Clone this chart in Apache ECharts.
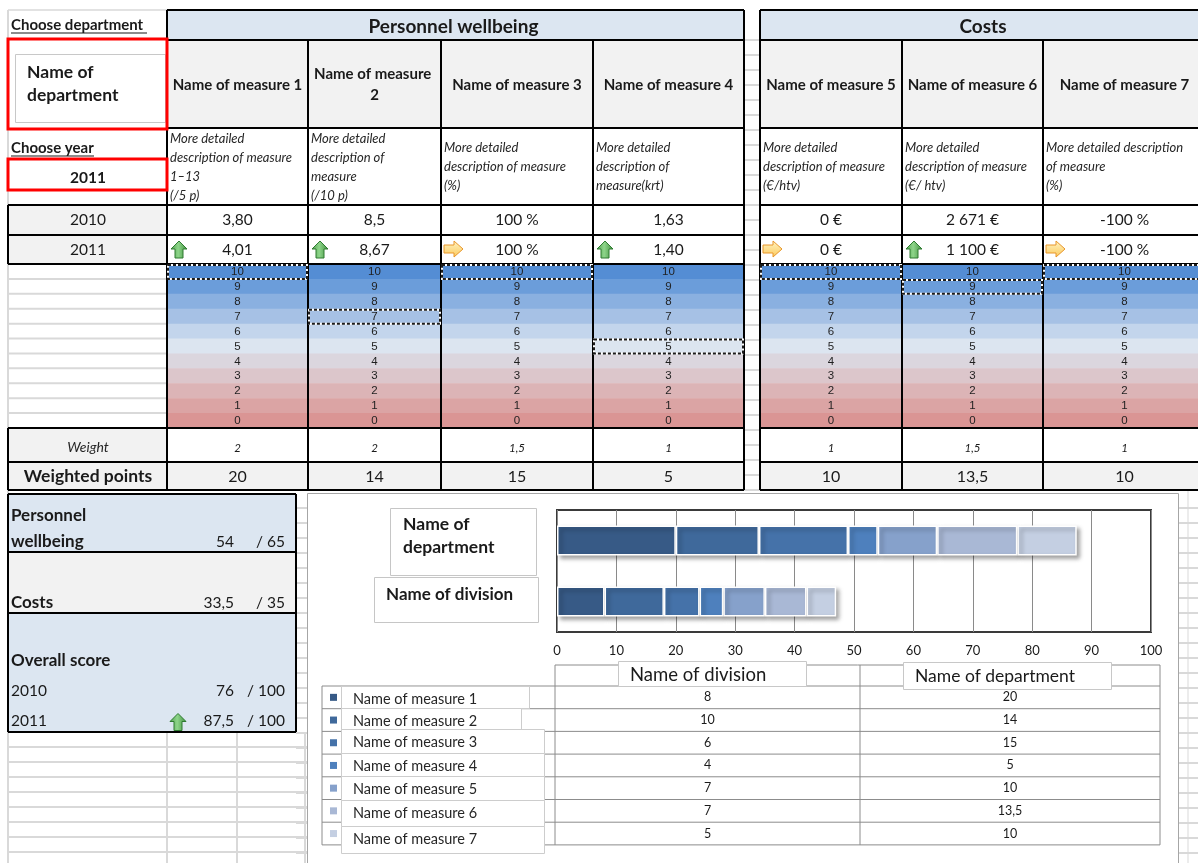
<!DOCTYPE html>
<html>
<head>
<meta charset="utf-8">
<title>Department scorecard</title>
<script src="https://cdn.jsdelivr.net/npm/echarts@6/dist/echarts.min.js"></script>
<style>
  html, body { margin: 0; padding: 0; background: #ffffff; }
  #main { width: 1198px; height: 863px; }
</style>
</head>
<body>
<div id="main"></div>
<script>
// ---------- data ----------
const groupNames = ['Personnel wellbeing', 'Costs'];
const measureNames = ['Name of measure 1', 'Name of measure 2', 'Name of measure 3', 'Name of measure 4',
                      'Name of measure 5', 'Name of measure 6', 'Name of measure 7'];
const measureGroup = [0, 0, 0, 0, 1, 1, 1];
const descriptions = [
  ['More detailed', 'description of measure', '1–13', '(/5 p)'],
  ['More detailed', 'description of', 'measure', '(/10 p)'],
  ['More detailed', 'description of measure', '(%)'],
  ['More detailed', 'description of', 'measure(krt)'],
  ['More detailed', 'description of measure', '(€/htv)'],
  ['More detailed', 'description of measure', '(€/ htv)'],
  ['More detailed description', 'of measure', '(%)']
];
const years = ['2010', '2011'];
const values2010 = ['3,80', '8,5', '100 %', '1,63', '0 €', '2 671 €', '-100 %'];
const values2011 = ['4,01', '8,67', '100 %', '1,40', '0 €', '1 100 €', '-100 %'];
const trend2011 = ['up', 'up', 'flat', 'up', 'flat', 'up', 'flat'];
const scaleSteps = [10, 9, 8, 7, 6, 5, 4, 3, 2, 1, 0];
const selectedScores = [10, 7, 10, 5, 10, 9, 10];
const weights = [2, 2, 1.5, 1, 1, 1.5, 1];
const departmentPoints = [20, 14, 15, 5, 10, 13.5, 10];
const divisionPoints = [8, 10, 6, 4, 7, 7, 5];
const barCategories = ['Name of division', 'Name of department'];
const summaryLabels = ['Personnel wellbeing', 'Costs'];
const summaryPoints = [54, 33.5];
const summaryMax = [65, 35];
const overallLabel = 'Overall score';
const overallYears = ['2010', '2011'];
const overallPoints = [76, 87.5];
const overallMax = [100, 100];
const overallTrend = [null, 'up'];
const chosenDepartment = 'Name of department';
const chosenYear = '2011';

// ---------- styles ----------
const FONT = 'Lato, "Open Sans", sans-serif';
const SCALE_FONT = '"Liberation Sans", Arial, sans-serif';
const scaleColors = ['#548dd4', '#6b9dda', '#8ab0e0', '#a6c1e5', '#c3d5ec', '#dce5f0',
                     '#dbd6de', '#dcc6cb', '#dcb4b6', '#dba4a4', '#da9594'];
const seriesColors = ['#375a86', '#3f699b', '#4572a9', '#4e80bd', '#86a1cb', '#a9b8d5', '#c4cfe2'];
const HEAD_BLUE = '#dce6f1';
const CELL_GREY = '#f2f2f2';
const SHEET_LINE = '#d9d9d9';
const fmt = v => String(v).replace('.', ',');

// ---------- layout ----------
const colEdges = [167, 308, 441, 593, 744, 760, 902, 1043, 1206];
const colLeft = i => (i < 4 ? colEdges[i] : colEdges[i + 1]);
const colRight = i => (i < 4 ? colEdges[i + 1] : colEdges[i + 2]);
const groupSpan = [[167, 744], [760, 1206]];
const Y = { top: 10, names: 40, desc: 128, r2010: 205, r2011: 235, scaleTop: 264, scaleBot: 428, weight: 462, bottom: 490 };
const scaleRowH = (Y.scaleBot - Y.scaleTop) / scaleSteps.length;

const els = [];
function rect(x, y, w, h, style, z) {
  els.push({ type: 'rect', silent: true, z: z === undefined ? 0 : z, shape: { x, y, width: w, height: h }, style });
}
function line(x1, y1, x2, y2, stroke, lw, z, dash) {
  const style = { stroke, lineWidth: lw || 1 };
  if (dash) style.lineDash = dash;
  els.push({ type: 'line', silent: true, z: z === undefined ? 3 : z, shape: { x1, y1, x2, y2 }, style });
}
function text(x, y, str, o, z) {
  els.push({
    type: 'text', silent: true, x, y, z: z === undefined ? 5 : z,
    style: Object.assign({ text: str, fill: '#1a1a1a', fontSize: 13, fontFamily: FONT, align: 'left', verticalAlign: 'middle' }, o || {})
  });
}
function upArrow(x0, y0, z) {
  els.push({
    type: 'polygon', silent: true, z: z || 6,
    shape: { points: [[x0 + 4, y0 + 17], [x0 + 4, y0 + 8], [x0, y0 + 8], [x0 + 8, y0], [x0 + 16, y0 + 8], [x0 + 12, y0 + 8], [x0 + 12, y0 + 17]] },
    style: {
      fill: { type: 'linear', x: 0, y: 0, x2: 1, y2: 0, colorStops: [{ offset: 0, color: '#4e9f4c' }, { offset: 0.45, color: '#8ed58a' }, { offset: 1, color: '#3f8f3d' }] },
      stroke: '#2e7a30', lineWidth: 1
    }
  });
}
function rightArrow(x0, y0, z) {
  els.push({
    type: 'polygon', silent: true, z: z || 6,
    shape: { points: [[x0, y0 + 4], [x0 + 10, y0 + 4], [x0 + 10, y0], [x0 + 19, y0 + 8], [x0 + 10, y0 + 16], [x0 + 10, y0 + 12], [x0, y0 + 12]] },
    style: {
      fill: { type: 'linear', x: 0, y: 0, x2: 0, y2: 1, colorStops: [{ offset: 0, color: '#fff4c4' }, { offset: 1, color: '#fbc95a' }] },
      stroke: '#e8962a', lineWidth: 1
    }
  });
}

// ---------- sheet gridlines ----------
line(8, 10, 8, 863, SHEET_LINE, 2, -2);
line(8, 10, 167, 10, SHEET_LINE, 1.5, -2);
for (let y = 40; y <= 490; y += 15) line(744, y, 760, y, SHEET_LINE, 2, -2);
for (let k = 0; k <= scaleSteps.length; k++) {
  const y = Y.scaleTop + k * scaleRowH;
  line(8, y, 167, y, SHEET_LINE, 2, -2);
}
for (let y = 508; y <= 863; y += 15) {
  line(1179, y, 1198, y, SHEET_LINE, 2, -2);
  line(296, y, 307, y, SHEET_LINE, 2, -2);
}
for (let y = 747; y <= 863; y += 15) line(8, y, 307, y, SHEET_LINE, 2, -2);
[167, 237, 305].forEach(x => line(x, 732, x, 863, SHEET_LINE, 2, -2));
line(1188, 490, 1188, 863, SHEET_LINE, 1, -2);

// ---------- top-left selectors ----------
text(11, 25, 'Choose department', { fontWeight: 'bold', fontSize: 15 });
line(11, 33, 147, 33, '#1a1a1a', 1.2, 5);
rect(8, 39, 159, 90, { fill: 'none', stroke: '#ff0000', lineWidth: 3 }, 6);
rect(15.5, 54.5, 150, 68, { fill: '#ffffff', stroke: '#c8c8c8', lineWidth: 1 }, 4);
text(27, 84, chosenDepartment, { fontWeight: 'bold', fontSize: 17.5, width: 110, overflow: 'break', lineHeight: 23 });
text(11, 148, 'Choose year', { fontWeight: 'bold', fontSize: 15 });
line(11, 156, 94, 156, '#1a1a1a', 1.2, 5);
rect(8, 159, 159, 31, { fill: 'none', stroke: '#ff0000', lineWidth: 3 }, 6);
text(88, 178, chosenYear, { fontWeight: 'bold', fontSize: 15.5, align: 'center' });

// ---------- measure table ----------
groupNames.forEach((g, gi) => {
  const [x0, x1] = groupSpan[gi];
  rect(x0, Y.top, x1 - x0, Y.names - Y.top, { fill: HEAD_BLUE }, 0);
  text(gi === 0 ? (x0 + x1) / 2 - 2 : (x0 + x1) / 2, 27, g, { fontWeight: 'bold', fontSize: 19, align: 'center' });
  line(x0, Y.top, x1, Y.top, '#000', 2);
  [Y.names, Y.desc, Y.r2010, Y.r2011, Y.scaleTop, Y.scaleBot, Y.weight, Y.bottom].forEach(y => line(x0, y, x1, y, '#000', 2));
  line(x0, Y.top, x0, Y.bottom, '#000', 2);
  line(x1, Y.top, x1, Y.bottom, '#000', 2);
});

measureNames.forEach((name, i) => {
  const x0 = colLeft(i), x1 = colRight(i), cx = (x0 + x1) / 2, w = x1 - x0;
  // names row
  rect(x0, Y.names, w, Y.desc - Y.names, { fill: CELL_GREY }, 0);
  text(cx, 85, name, { fontWeight: 'bold', fontSize: 15, align: 'center', width: w - 4, overflow: 'break', lineHeight: 21 });
  // description row
  const d = descriptions[i];
  const mid = (Y.desc + Y.r2010) / 2 + 0.5;
  d.forEach((ln, k) => text(x0 + 3, mid + (k - (d.length - 1) / 2) * 19, ln, { fontStyle: 'italic', fontSize: 13, fill: '#262626' }));
  // yearly values
  text(cx, 220, values2010[i], { fontSize: 15.5, align: 'center' });
  text(cx, 249.5, values2011[i], { fontSize: 15.5, align: 'center' });
  if (trend2011[i] === 'up') upArrow(x0 + 4, 241); else rightArrow(x0 + 3, 241);
  // score scale
  scaleSteps.forEach((s, k) => {
    const y = Y.scaleTop + k * scaleRowH;
    rect(x0, y, w, scaleRowH + 0.5, { fill: scaleColors[k] }, 0);
    text(cx, y + scaleRowH / 2 + 0.5, String(s), { fontSize: 11.5, fontFamily: SCALE_FONT, align: 'center', fill: '#1f1f1f' });
  });
  const sk = scaleSteps.indexOf(selectedScores[i]);
  const sy = Y.scaleTop + sk * scaleRowH;
  rect(x0 + 1, sy + 1, w - 2, scaleRowH - 1, { fill: 'none', stroke: '#ffffff', lineWidth: 2 }, 7);
  rect(x0 + 1, sy + 1, w - 2, scaleRowH - 1, { fill: 'none', stroke: '#1a1a1a', lineWidth: 2, lineDash: [3, 2] }, 8);
  // weight & weighted points
  rect(x0, Y.scaleBot, w, Y.weight - Y.scaleBot, { fill: '#ffffff' }, 0);
  text(cx, 448, fmt(weights[i]), { fontStyle: 'italic', fontSize: 11.5, align: 'center' });
  rect(x0, Y.weight, w, Y.bottom - Y.weight, { fill: CELL_GREY }, 0);
  text(cx, 476.5, fmt(departmentPoints[i]), { fontSize: 16, align: 'center' });
  // column borders
  line(x0, Y.names, x0, Y.bottom, '#000', 2);
  line(x1, Y.names, x1, Y.bottom, '#000', 2);
});

// left labels of the value / weight rows
rect(8, Y.r2010, 159, Y.scaleTop - Y.r2010, { fill: CELL_GREY }, 0);
text(88, 220, years[0], { fontSize: 15.5, align: 'center' });
text(88, 249.5, years[1], { fontSize: 15.5, align: 'center' });
[[8, Y.r2010, 167, Y.r2010], [8, Y.r2011, 167, Y.r2011], [8, Y.scaleTop, 167, Y.scaleTop], [8, Y.r2010, 8, Y.scaleTop]]
  .forEach(p => line(p[0], p[1], p[2], p[3], '#000', 2));
rect(8, Y.scaleBot, 159, Y.bottom - Y.scaleBot, { fill: CELL_GREY }, 0);
text(88, 447, 'Weight', { fontStyle: 'italic', fontSize: 14, align: 'center', fill: '#262626' });
text(88, 476, 'Weighted points', { fontWeight: 'bold', fontSize: 17.5, align: 'center' });
[[8, Y.scaleBot, 167, Y.scaleBot], [8, Y.weight, 167, Y.weight], [8, Y.bottom, 167, Y.bottom], [8, Y.scaleBot, 8, Y.bottom]]
  .forEach(p => line(p[0], p[1], p[2], p[3], '#000', 2));

// ---------- summary panel ----------
const sumBlocks = [[494, 552, HEAD_BLUE], [552, 613, CELL_GREY]];
summaryLabels.forEach((lab, i) => {
  const [y0, y1, fill] = sumBlocks[i];
  rect(8, y0, 288, y1 - y0, { fill }, 0);
  const words = lab.split(' ');
  const lines = words.length > 1 ? words : [lab];
  lines.forEach((ln, k) => text(11, y1 - 10 - (lines.length - 1 - k) * 26, ln, { fontWeight: 'bold', fontSize: 17 }));
  text(234, y1 - 10, fmt(summaryPoints[i]), { fontSize: 15.5, align: 'right' });
  text(285, y1 - 10, '/ ' + summaryMax[i], { fontSize: 15.5, align: 'right' });
});
rect(8, 613, 288, 119, { fill: HEAD_BLUE }, 0);
text(11, 661, overallLabel, { fontWeight: 'bold', fontSize: 17 });
overallYears.forEach((yr, i) => {
  const y = 691 + i * 29.5;
  text(11, y, yr, { fontSize: 15.5 });
  text(234, y, fmt(overallPoints[i]), { fontSize: 15.5, align: 'right' });
  text(285, y, '/ ' + overallMax[i], { fontSize: 15.5, align: 'right' });
  if (overallTrend[i] === 'up') upArrow(170, y - 7);
});
[[8, 494, 296, 494], [8, 552, 296, 552], [8, 613, 296, 613], [8, 732, 296, 732], [8, 494, 8, 732], [296, 494, 296, 732]]
  .forEach(p => line(p[0], p[1], p[2], p[3], '#000', 2));

// ---------- chart frame and overlays ----------
rect(307.5, 493.5, 871, 375, { fill: '#ffffff', stroke: '#a6a6a6', lineWidth: 1 }, -1);

// category name boxes beside the bars
rect(390.5, 508.5, 146, 67, { fill: '#ffffff', stroke: '#c6c6c6', lineWidth: 1 }, 10);
text(403, 536, barCategories[1], { fontWeight: 'bold', fontSize: 17.5, width: 110, overflow: 'break', lineHeight: 23 }, 11);
rect(374.5, 577.5, 164, 45, { fill: '#ffffff', stroke: '#c6c6c6', lineWidth: 1 }, 10);
text(386, 595, barCategories[0], { fontWeight: 'bold', fontSize: 17 }, 11);

// data table under the bars
const tL = 322, tC1 = 555, tC2 = 860, tR = 1160, tTop = 665, tRow0 = 686, tRowH = 22.7;
const TL = '#8c8c8c';
line(tC1, tTop, tR, tTop, TL, 1, -0.5);
[tC1, tC2, tR].forEach(x => line(x, tTop, x, tRow0 + 7 * tRowH, TL, 1, -0.5));
line(tL, tRow0, tL, tRow0 + 7 * tRowH, TL, 1, -0.5);
for (let k = 0; k <= measureNames.length; k++) line(tL, tRow0 + k * tRowH, tR, tRow0 + k * tRowH, TL, 1, -0.5);
measureNames.forEach((name, i) => {
  const cy = tRow0 + (i + 0.5) * tRowH;
  rect(330, cy - 3.5, 7, 7, { fill: seriesColors[i] }, 1);
  text((tC1 + tC2) / 2, cy, fmt(divisionPoints[i]), { fontSize: 12.5, align: 'center' }, 1);
  text((tC2 + tR) / 2, cy, fmt(departmentPoints[i]), { fontSize: 12.5, align: 'center' }, 1);
});
// column header boxes of the table
rect(618.5, 661.5, 188, 25, { fill: '#ffffff', stroke: '#c8c8c8', lineWidth: 1 }, 10);
text(630, 675, barCategories[0], { fontSize: 18.5 }, 11);
rect(903.5, 662.5, 208, 27, { fill: '#ffffff', stroke: '#c8c8c8', lineWidth: 1 }, 10);
text(915, 676, barCategories[1], { fontSize: 17.5 }, 11);
// measure name boxes over the legend column
const legendBoxTop = [686, 708, 729, 753, 776, 800, 826];
const legendBoxH = [22, 23, 24, 23, 24, 26, 27];
const legendBoxW = [188, 180, 203, 203, 203, 203, 203];
measureNames.forEach((name, i) => {
  rect(341.5, legendBoxTop[i] + 0.5, legendBoxW[i], legendBoxH[i], { fill: '#ffffff', stroke: '#cdcdcd', lineWidth: 1 }, 10);
  text(353, legendBoxTop[i] + 13, name, { fontSize: 14.5, fill: '#262626' }, 11);
});

// ---------- chart ----------
const chart = echarts.init(document.getElementById('main'), null, { renderer: 'canvas' });
chart.setOption({
  animation: false,
  backgroundColor: '#ffffff',
  grid: { left: 557, top: 510, width: 594, height: 122, show: true, borderColor: '#3a3a3a', borderWidth: 2, backgroundColor: 'transparent' },
  xAxis: {
    type: 'value', min: 0, max: 100, interval: 10,
    axisLine: { show: false }, axisTick: { show: false },
    splitLine: { show: true, lineStyle: { color: '#8a8a8a', width: 1 } },
    axisLabel: { fontSize: 13, color: '#1a1a1a', fontFamily: FONT, margin: 12 }
  },
  yAxis: {
    type: 'category', data: barCategories,
    axisLine: { show: false }, axisTick: { show: false }, axisLabel: { show: false }, splitLine: { show: false }
  },
  series: measureNames.map((name, i) => ({
    type: 'bar', name, stack: 'points', barWidth: 30, silent: true,
    data: [divisionPoints[i], departmentPoints[i]],
    itemStyle: {
      color: seriesColors[i], borderColor: '#ffffff', borderWidth: 1.5,
      shadowBlur: 4, shadowOffsetX: 3, shadowOffsetY: 3, shadowColor: 'rgba(0,0,0,0.35)'
    }
  })),
  graphic: { elements: els }
});
</script>
</body>
</html>
